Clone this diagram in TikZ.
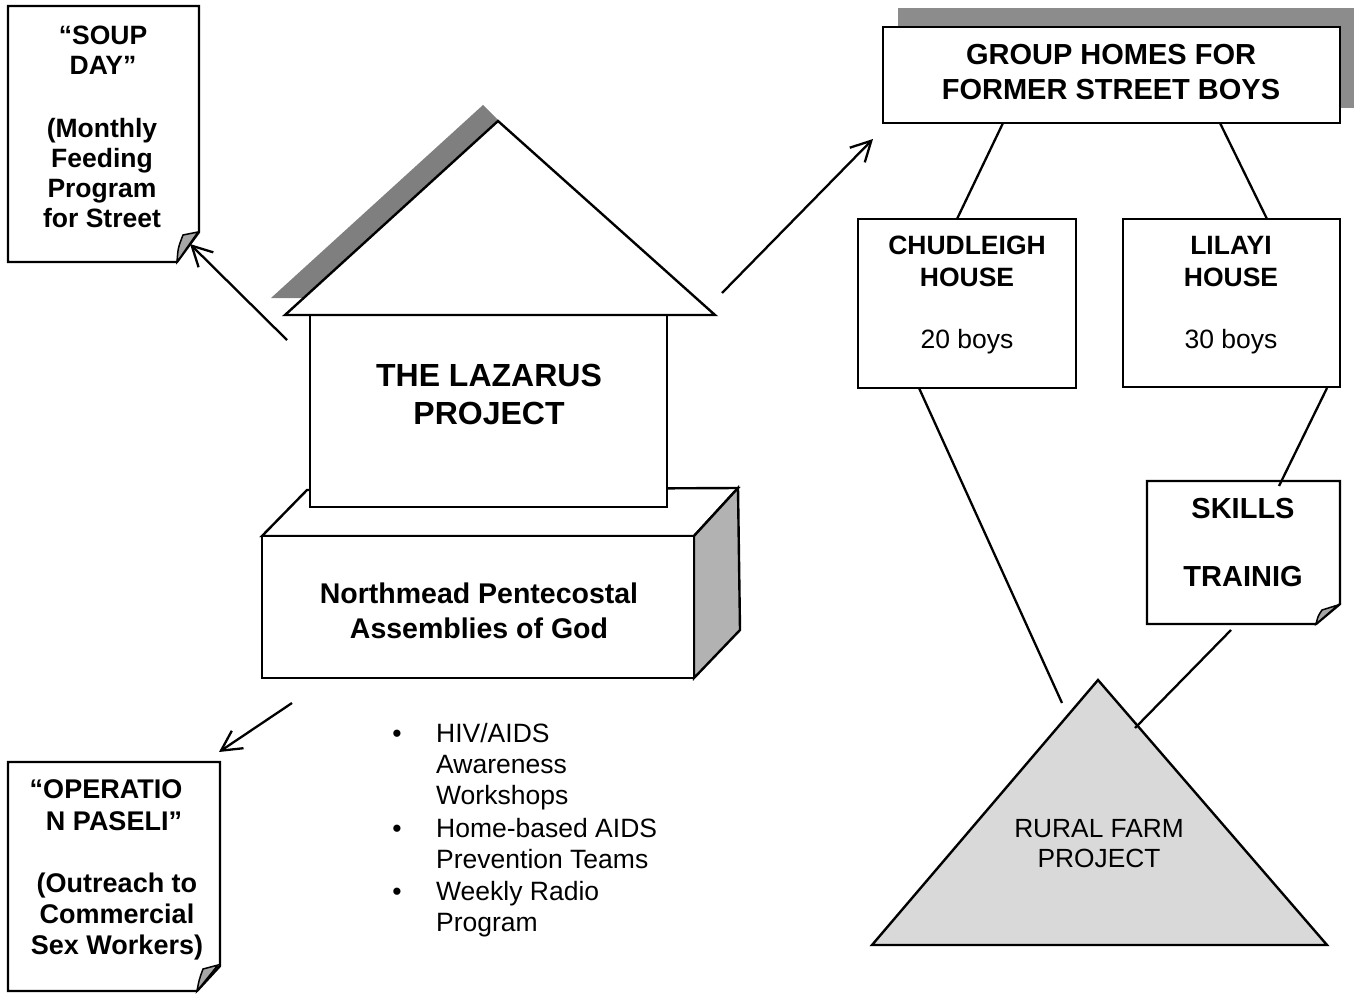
\documentclass[tikz,border=0pt]{standalone}
\usepackage{fontspec}
\setmainfont{Liberation Sans}
\usetikzlibrary{arrows.meta}
\definecolor{shadowgray}{HTML}{7F7F7F}
\definecolor{sidegray}{HTML}{B2B2B2}
\definecolor{farmgray}{HTML}{D9D9D9}
\definecolor{curlgray}{HTML}{A6A6A6}
\begin{document}
\begin{tikzpicture}[x=1pt,y=-1pt,line join=miter,
  outline/.style={draw=black,line width=2.4pt},
  conn/.style={draw=black,line width=2.3pt},
  arr/.style={conn,-{Straight Barb[length=20pt,width=21pt,line width=2.3pt]}},
  curl/.style={fill=curlgray,draw=black,line width=1.5pt},
  boldtxt/.style={font=\bfseries\fontsize{#1}{#1}\selectfont,inner sep=0pt,anchor=base},
  regtxt/.style={font=\fontsize{#1}{#1}\selectfont,inner sep=0pt,anchor=base}]
\useasboundingbox (0,0) rectangle (1354,993);

% ---------- Soup Day note (anchors at baseline of last line) ----------
\draw[outline,fill=white] (8,6) -- (199,6) -- (199,232) -- (177,262) -- (8,262) -- cycle;
\draw[curl] (177,262) .. controls (178,248) .. (183,235) -- (198,232) -- cycle;
\node[boldtxt=26.5,align=center] (souptitle) at (103,74) {“SOUP\\[3.5pt]DAY”};
\node[boldtxt=26.5,align=center] (soupbody) at (102,227) {(Monthly\\[3.5pt]Feeding\\[3.5pt]Program\\[3.5pt]for Street};

% ---------- Operation Paseli note ----------
\draw[outline,fill=white] (8,762) -- (220,762) -- (220,966) -- (197,991) -- (8,991) -- cycle;
\draw[curl] (197,991) .. controls (199,980) .. (203,969) -- (218,965) -- cycle;
\node[boldtxt=27] (optitleA) at (106,798) {“OPERATIO};
\node[boldtxt=27] (optitleB) at (114,830) {N PASELI”};
\node[boldtxt=27,align=center] (opbody) at (117,954) {(Outreach to\\[4pt]Commercial\\[4pt]Sex Workers)};

% ---------- Base (church) ----------
\draw[outline,fill=white] (262,536) -- (307,490) -- (738,488) -- (694,536) -- cycle;
\draw[outline,fill=sidegray] (694,536) -- (738,488) -- (740,630) -- (694,678) -- cycle;
\draw[outline,fill=white] (262,536) rectangle (694,678);
\node[boldtxt=28.5,align=center] (church) at (479,638) {Northmead Pentecostal\\[6.5pt]Assemblies of God};

% ---------- House ----------
\draw[outline,fill=white] (310,315) rectangle (667,507);
\fill[shadowgray] (271,298) -- (483,105) -- (499,121) -- (304,298) -- cycle;
\draw[outline,fill=white] (285,315) -- (498,121) -- (715,315) -- cycle;
\node[boldtxt=32,align=center] (lazarus) at (489,424.5) {THE LAZARUS\\[6pt]PROJECT};

% ---------- Bullets ----------
\node[regtxt=26.5] (b1) at (397,742.5) {•};
\node[regtxt=26.5] (b2) at (397,837.5) {•};
\node[regtxt=26.5] (b3) at (397,900.5) {•};
\node[regtxt=26.5,anchor=base west,align=left] (t1) at (436,804.5) {HIV/AIDS\\[4.5pt]Awareness\\[4.5pt]Workshops};
\node[regtxt=26.5,anchor=base west,align=left] (t2) at (436,868) {Home-based AIDS\\[4pt]Prevention Teams};
\node[regtxt=26.5,anchor=base west,align=left] (t3) at (436,931.5) {Weekly Radio\\[4.5pt]Program};

% ---------- Group homes ----------
\fill[shadowgray!90!white] (898,8) rectangle (1354,108);
\draw[outline,fill=white] (883,27) rectangle (1340,123);
\node[boldtxt=29,align=center] (group) at (1111,99.5) {GROUP HOMES FOR\\[6pt]FORMER STREET BOYS};

\draw[outline,fill=white] (858,219) rectangle (1076,388);
\node[boldtxt=26.5,align=center] (chud) at (967,286.5) {CHUDLEIGH\\[5.5pt]HOUSE};
\node[regtxt=26.5] (chudn) at (967,348.5) {20 boys};

\draw[outline,fill=white] (1123,219) rectangle (1340,387);
\node[boldtxt=26.5,align=center] (lil) at (1231,286.5) {LILAYI\\[5.5pt]HOUSE};
\node[regtxt=26.5] (liln) at (1231,348.5) {30 boys};

% ---------- Skills training ----------
\draw[outline,fill=white] (1147,481) -- (1340,481) -- (1340,604) -- (1316,624) -- (1147,624) -- cycle;
\draw[curl] (1316,624) .. controls (1318,616) .. (1322,610) -- (1338,605) -- cycle;
\node[boldtxt=29] (skillsA) at (1243,518.5) {SKILLS};
\node[boldtxt=29] (skillsB) at (1243,586.5) {TRAINIG};

% ---------- Rural farm ----------
\draw[outline,fill=farmgray] (872,945) -- (1098,680) -- (1327,945) -- cycle;
\node[regtxt=26.3,align=center] (farm) at (1099,867.8) {RURAL FARM\\[4pt]PROJECT};

% ---------- Connector end points ----------
\coordinate (hs) at (287,340);  \coordinate (sa) at (190,244);
\coordinate (hp) at (292,703);  \coordinate (pa) at (219,752);
\coordinate (hg) at (722,293);  \coordinate (ga) at (873,139);
\coordinate (g1) at (1003,123); \coordinate (c1) at (957,219);
\coordinate (g2) at (1220,123); \coordinate (l1) at (1267,219);
\coordinate (c2) at (919,388);  \coordinate (f1) at (1062,703);
\coordinate (l2) at (1327,388); \coordinate (s1) at (1279,486);
\coordinate (s2) at (1231,630); \coordinate (f2) at (1135,728);

\draw[arr] (hs) -- (sa);
\draw[arr] (hp) -- (pa);
\draw[arr] (hg) -- (ga);
\draw[conn] (g1) -- (c1);
\draw[conn] (g2) -- (l1);
\draw[conn] (c2) -- (f1);
\draw[conn] (l2) -- (s1);
\draw[conn] (s2) -- (f2);
\end{tikzpicture}
\end{document}
